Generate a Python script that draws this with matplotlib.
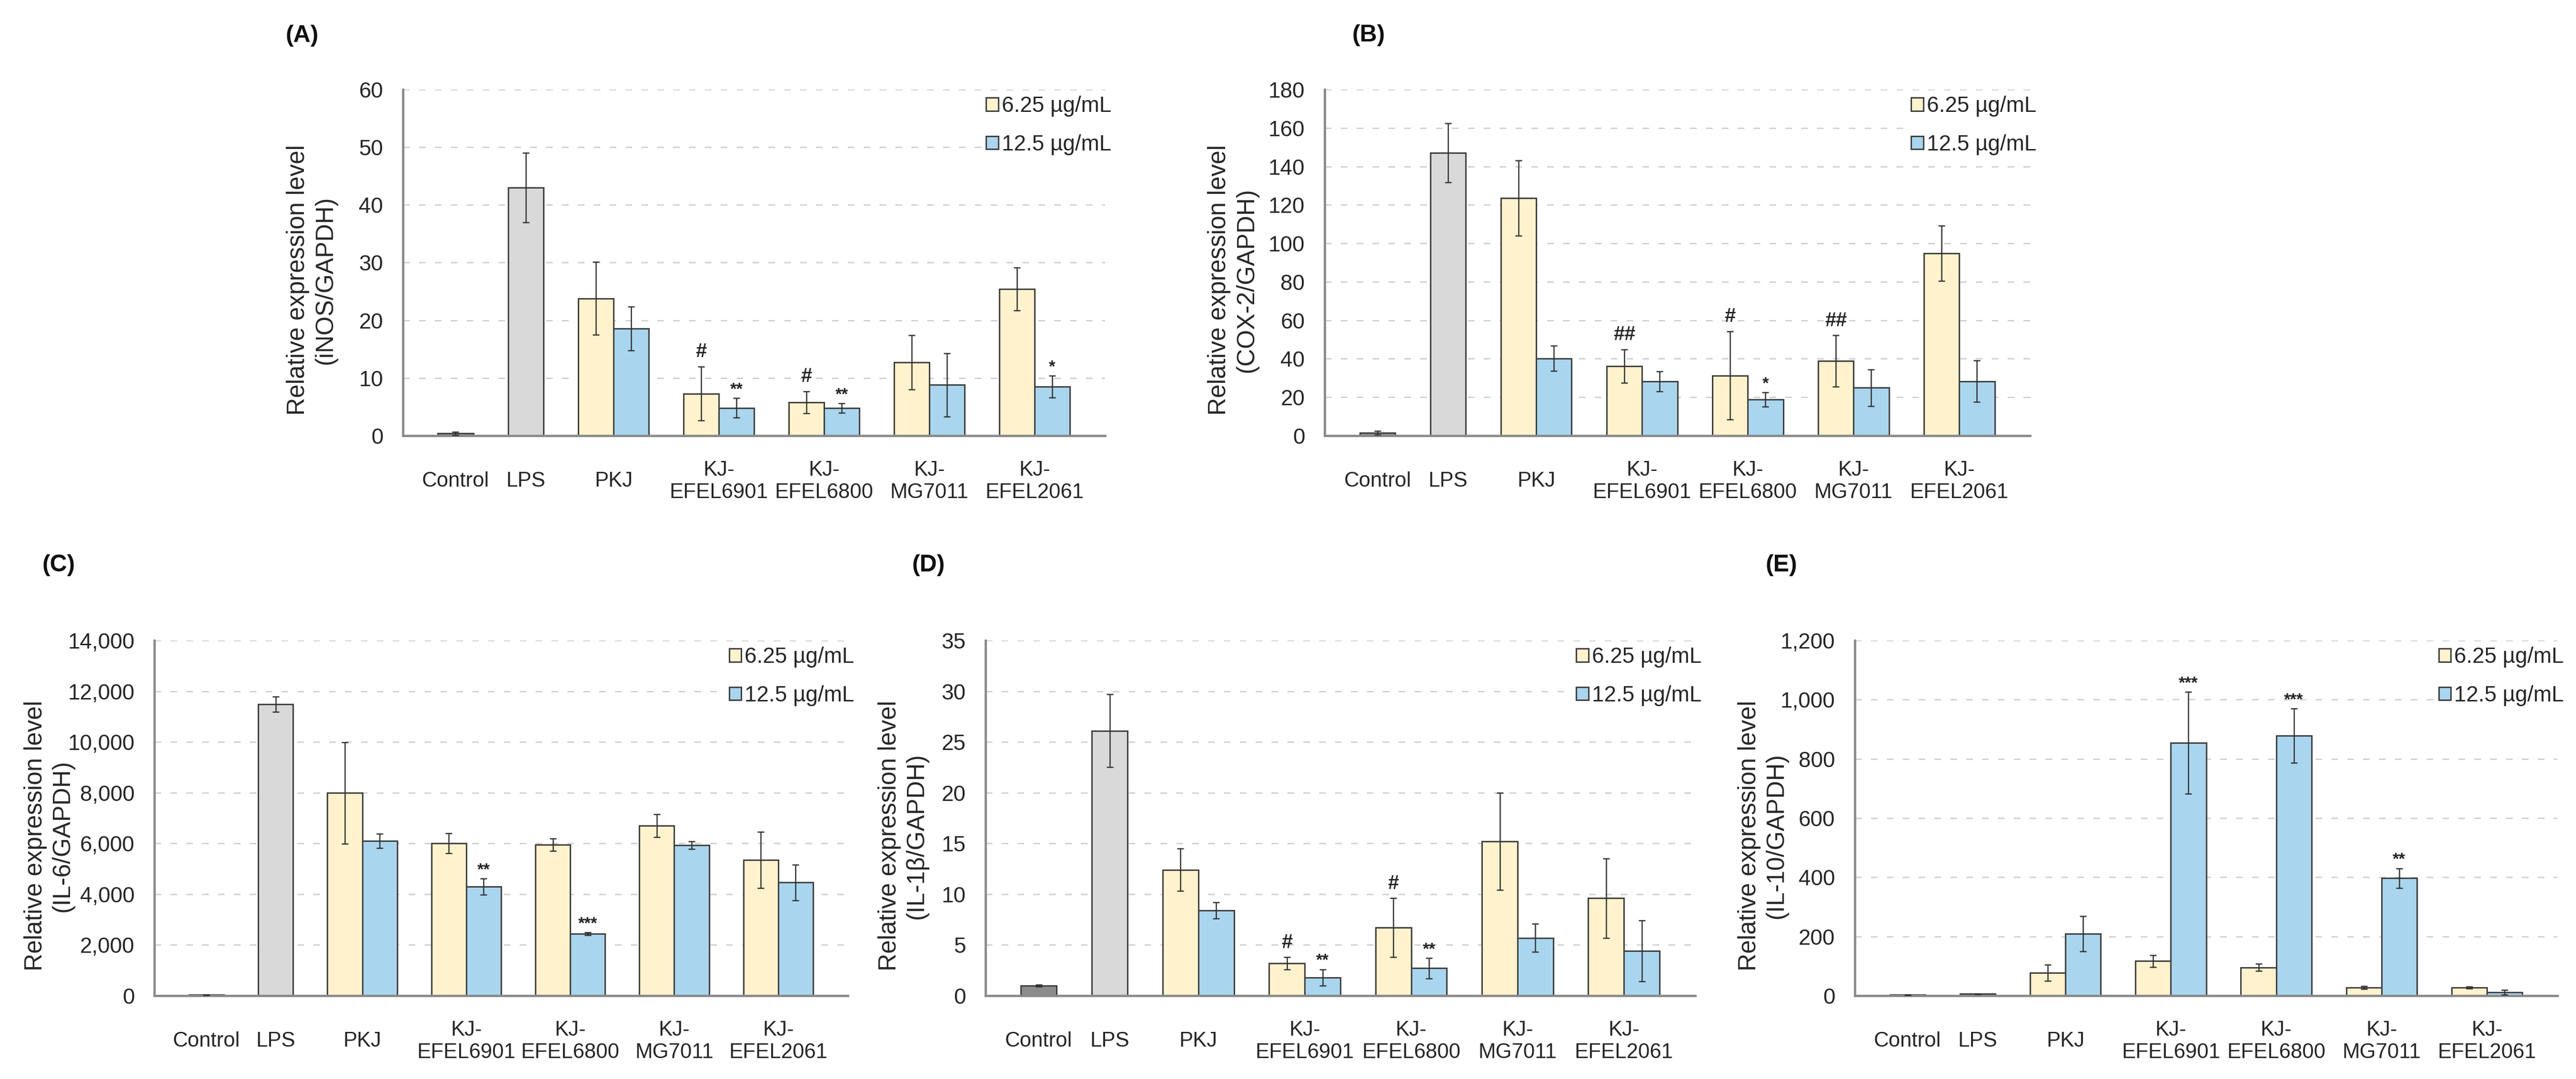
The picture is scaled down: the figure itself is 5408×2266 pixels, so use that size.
import numpy as np
import matplotlib.pyplot as plt
from matplotlib.ticker import MultipleLocator, FuncFormatter

plt.rcParams['font.family'] = ['Liberation Sans', 'DejaVu Sans']

W, H = 5408, 2266

categories = ['Control', 'LPS', 'PKJ', 'KJ-\nEFEL6901', 'KJ-\nEFEL6800', 'KJ-\nMG7011', 'KJ-\nEFEL2061']
doses = ['6.25 \u00b5g/mL', '12.5 \u00b5g/mL']

# (A) iNOS
inos_ctrl, inos_ctrl_err = 0.4, 0.3
inos_lps, inos_lps_err = 43.0, 6.0
inos_low = [23.8, 7.3, 5.8, 12.7, 25.4]
inos_low_err = [6.3, 4.7, 1.9, 4.7, 3.7]
inos_high = [18.6, 4.8, 4.8, 8.8, 8.5]
inos_high_err = [3.8, 1.7, 0.8, 5.5, 1.9]
inos_marks = [(0, 1, '#'), (0, 2, '#'), (1, 1, '**'), (1, 2, '**'), (1, 4, '*')]

# (B) COX-2
cox_ctrl, cox_ctrl_err = 1.5, 1.0
cox_lps, cox_lps_err = 147.0, 15.4
cox_low = [123.5, 36.2, 31.3, 38.8, 94.8]
cox_low_err = [19.6, 8.7, 23.0, 13.4, 14.4]
cox_high = [40.2, 28.3, 18.8, 24.9, 28.3]
cox_high_err = [6.5, 5.2, 3.8, 9.6, 10.8]
cox_marks = [(0, 1, '##'), (0, 2, '#'), (0, 3, '##'), (1, 2, '*')]

# (C) IL-6
il6_ctrl, il6_ctrl_err = 30, 10
il6_lps, il6_lps_err = 11480, 300
il6_low = [7990, 6005, 5950, 6700, 5350]
il6_low_err = [2000, 400, 250, 450, 1100]
il6_high = [6100, 4300, 2440, 5930, 4460]
il6_high_err = [280, 320, 60, 150, 700]
il6_marks = [(1, 1, '**'), (1, 2, '***')]

# (D) IL-1beta
il1b_ctrl, il1b_ctrl_err = 1.0, 0.1
il1b_lps, il1b_lps_err = 26.1, 3.6
il1b_low = [12.4, 3.2, 6.7, 15.2, 9.6]
il1b_low_err = [2.1, 0.6, 2.9, 4.8, 3.9]
il1b_high = [8.4, 1.8, 2.7, 5.7, 4.4]
il1b_high_err = [0.8, 0.8, 1.0, 1.4, 3.0]
il1b_marks = [(0, 1, '#'), (0, 2, '#'), (1, 1, '**'), (1, 2, '**')]

# (E) IL-10
il10_ctrl, il10_ctrl_err = 3, 1
il10_lps, il10_lps_err = 6, 1
il10_low = [77, 117, 95, 27, 27]
il10_low_err = [27, 20, 12, 5, 3]
il10_high = [209, 854, 878, 397, 12]
il10_high_err = [60, 172, 92, 33, 8]
il10_marks = [(1, 1, '***'), (1, 2, '***'), (1, 3, '**')]

yellow = '#FFF2CC'
blue = '#A9D5EE'
lps_gray = '#D9D9D9'
ctrl_gray = '#8C8C8C'
edge = '#404040'
axis_gray = '#8A8A8A'
text_col = '#262626'

bar_w = 0.335
single_x = np.array([0.0, 0.667])
pair_x = np.array([1.5, 2.5, 3.5, 4.5, 5.5])
label_x = np.concatenate([single_x, pair_x])


def comma(v, pos):
    return f'{int(v):,}'


def draw_panel(box, ctrl, ctrl_err, lps, lps_err, low, low_err, high, high_err,
               marks, ymax, step, ylabel, ylab_x, use_comma=False):
    left, top, right, bottom = box
    ax = fig.add_axes([left / W, 1 - bottom / H, (right - left) / W, (bottom - top) / H])
    ekw = dict(fmt='none', ecolor='#303030', elinewidth=1.8, capsize=5, capthick=1.8, zorder=4)

    ax.bar(single_x, [ctrl, lps], width=bar_w, color=[ctrl_gray, lps_gray],
           edgecolor=edge, linewidth=2.2, zorder=2)
    ax.errorbar(single_x, [ctrl, lps], yerr=[ctrl_err, lps_err], **ekw)
    b1 = ax.bar(pair_x - bar_w / 2, low, width=bar_w, color=yellow, edgecolor=edge,
                linewidth=2.2, zorder=2, label=doses[0])
    b2 = ax.bar(pair_x + bar_w / 2, high, width=bar_w, color=blue, edgecolor=edge,
                linewidth=2.2, zorder=2, label=doses[1])
    ax.errorbar(pair_x - bar_w / 2, low, yerr=low_err, **ekw)
    ax.errorbar(pair_x + bar_w / 2, high, yerr=high_err, **ekw)

    tops = [np.array(low) + np.array(low_err), np.array(high) + np.array(high_err)]
    for series, idx, txt in marks:
        xm = pair_x[idx] + (bar_w / 2 if series else -bar_w / 2)
        star = '*' in txt
        ax.annotate(txt, xy=(xm, tops[series][idx]), xytext=(0, 6 if star else 14),
                    textcoords='offset points', ha='center', va='baseline',
                    fontsize=25 if star else 30, fontweight='bold', color=text_col, zorder=5)

    ax.set_xlim(-0.5, 6.17)
    ax.set_ylim(0, ymax)
    ax.yaxis.set_major_locator(MultipleLocator(step))
    if use_comma:
        ax.yaxis.set_major_formatter(FuncFormatter(comma))
    ax.set_xticks([])
    ax.tick_params(axis='y', length=0, pad=30, labelsize=33, labelcolor=text_col)
    ax.yaxis.grid(True, color='#CFCFCF', linestyle=(0, (5, 7)), linewidth=2)
    ax.set_axisbelow(True)
    for s in ['top', 'right']:
        ax.spines[s].set_visible(False)
    for s in ['left', 'bottom']:
        ax.spines[s].set_color(axis_gray)
        ax.spines[s].set_linewidth(3.5)

    for xc, name in zip(label_x, categories):
        ax.annotate(name, xy=(xc, 0), xycoords=('data', 'axes fraction'),
                    xytext=(0, -69), textcoords='offset points', ha='center', va='center',
                    fontsize=31.5, color=text_col, linespacing=1.2)

    ax.set_ylabel(ylabel, fontsize=37, color=text_col, linespacing=1.22)
    ax.yaxis.label.set_va('center')
    ax.yaxis.set_label_coords(ylab_x, 0.45)

    pw = right - left
    ph = bottom - top
    leg = ax.legend(handles=[b1, b2], loc='upper right',
                    bbox_to_anchor=(1 + 22 / pw, 1 - 4 / ph), fontsize=33,
                    frameon=True, facecolor='white', edgecolor='none', framealpha=1,
                    handlelength=0.55, handleheight=0.55, handletextpad=0.15,
                    labelspacing=0.8, borderpad=0.2, borderaxespad=0)
    leg.get_frame().set_boxstyle('square', pad=0)
    for t in leg.get_texts():
        t.set_color(text_col)
    return ax


fig = plt.figure(figsize=(W / 100, H / 100), dpi=100)

draw_panel((846, 188, 2320, 915), inos_ctrl, inos_ctrl_err, inos_lps, inos_lps_err,
           inos_low, inos_low_err, inos_high, inos_high_err, inos_marks,
           60, 10, 'Relative expression level\n(iNOS/GAPDH)', -0.130)
draw_panel((2781, 188, 4262, 915), cox_ctrl, cox_ctrl_err, cox_lps, cox_lps_err,
           cox_low, cox_low_err, cox_high, cox_high_err, cox_marks,
           180, 20, 'Relative expression level\n(COX-2/GAPDH)', -0.130)
draw_panel((324, 1345, 1780, 2091), il6_ctrl, il6_ctrl_err, il6_lps, il6_lps_err,
           il6_low, il6_low_err, il6_high, il6_high_err, il6_marks,
           14000, 2000, 'Relative expression level\n(IL-6/GAPDH)', -0.152, use_comma=True)
draw_panel((2069, 1345, 3559, 2091), il1b_ctrl, il1b_ctrl_err, il1b_lps, il1b_lps_err,
           il1b_low, il1b_low_err, il1b_high, il1b_high_err, il1b_marks,
           35, 5, 'Relative expression level\n(IL-1\u03b2/GAPDH)', -0.116)
draw_panel((3894, 1345, 5369, 2091), il10_ctrl, il10_ctrl_err, il10_lps, il10_lps_err,
           il10_low, il10_low_err, il10_high, il10_high_err, il10_marks,
           1200, 200, 'Relative expression level\n(IL-10/GAPDH)', -0.131, use_comma=True)

for lab, (px, py) in zip(['(A)', '(B)', '(C)', '(D)', '(E)'],
                         [(634, 75), (2873, 74), (123, 1187), (1949, 1187), (3740, 1187)]):
    fig.text(px / W, 1 - py / H, lab, fontsize=36, fontweight='bold', ha='center', va='center',
             color='#111111')

fig.savefig('out.png', dpi=100, facecolor='white')
